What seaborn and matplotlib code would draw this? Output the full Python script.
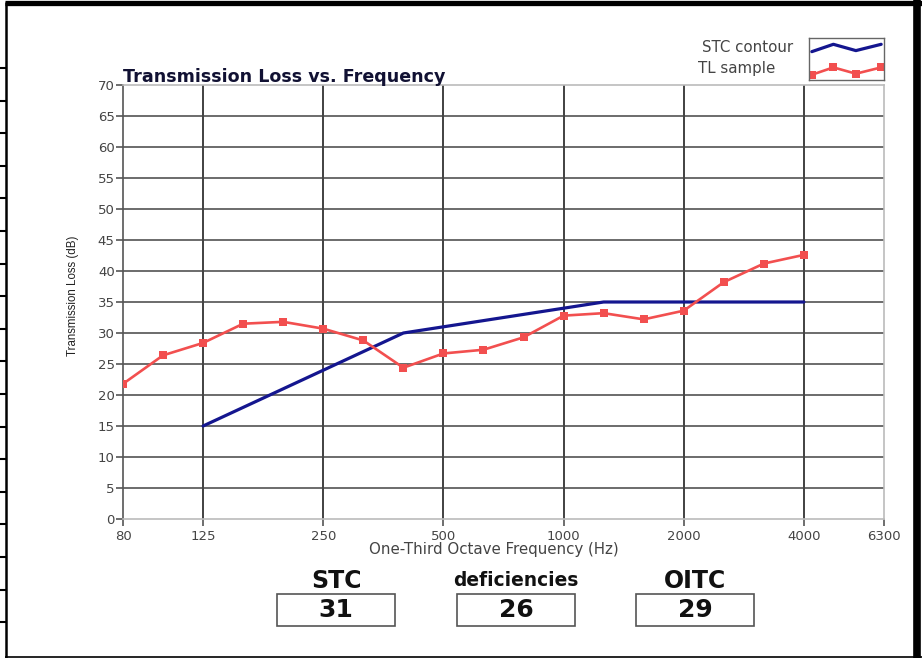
import matplotlib
matplotlib.use("Agg")
import matplotlib.pyplot as plt
import seaborn as sns
import pandas as pd
from matplotlib.patches import Rectangle
from matplotlib.lines import Line2D

# ---- data ----
bands = [80, 100, 125, 160, 200, 250, 315, 400, 500, 630, 800, 1000,
         1250, 1600, 2000, 2500, 3150, 4000, 5000, 6300]
tl_freqs = [80, 100, 125, 160, 200, 250, 315, 400, 500, 630, 800, 1000,
            1250, 1600, 2000, 2500, 3150, 4000]
tl_values = [21.8, 26.4, 28.4, 31.5, 31.8, 30.7, 28.8, 24.4, 26.7, 27.3, 29.3, 32.8,
             33.2, 32.2, 33.6, 38.2, 41.2, 42.6]
stc_freqs = [125, 160, 200, 250, 315, 400, 500, 630, 800, 1000,
             1250, 1600, 2000, 2500, 3150, 4000]
stc_values = [15, 18, 21, 24, 27, 30, 31, 32, 33, 34, 35, 35, 35, 35, 35, 35]
xtick_labels = [80, 125, 250, 500, 1000, 2000, 4000, 6300]
grid_freqs = [125, 250, 500, 1000, 2000, 4000]
summary_names = ["STC", "deficiencies", "OITC"]
summary_values = ["31", "26", "29"]

idx = {f: i for i, f in enumerate(bands)}
tl_df = pd.DataFrame({"band": [idx[f] for f in tl_freqs], "TL": tl_values})
stc_df = pd.DataFrame({"band": [idx[f] for f in stc_freqs], "TL": stc_values})

sns.set_style("white")
plt.rcParams["font.family"] = ["DejaVu Sans"]

W, H = 922, 658
fig = plt.figure(figsize=(W / 100, H / 100), dpi=100)
ax = fig.add_axes([123 / W, 1 - 519 / H, (884 - 123) / W, (519 - 85) / H])

navy = "#14168f"
red = "#f24f4f"

# grid
for f in grid_freqs:
    ax.axvline(idx[f], color="#333333", lw=1.3, zorder=1)
for y in range(5, 70, 5):
    ax.axhline(y, color="#444444", lw=1.1, zorder=1)

sns.lineplot(data=stc_df, x="band", y="TL", ax=ax, color=navy, lw=2.3,
             zorder=3, legend=False)
sns.lineplot(data=tl_df, x="band", y="TL", ax=ax, color=red, lw=1.9,
             marker="s", markersize=5.5, markeredgewidth=0, zorder=4, legend=False)

ax.set_xlim(0, len(bands) - 1)
ax.set_ylim(0, 70)
ax.set_xticks([idx[f] for f in xtick_labels])
ax.set_xticklabels([str(v) for v in xtick_labels])
ax.set_yticks(range(0, 75, 5))
ax.tick_params(axis="both", bottom=True, left=True, labelsize=9.5,
               colors="#555555", length=5, width=1.2, direction="out",
               labelcolor="#444444")
ax.tick_params(axis="x", pad=3)
ax.tick_params(axis="y", pad=1)
for s in ax.spines.values():
    s.set_color("#bbbbbb")
    s.set_linewidth(1.2)
ax.spines["left"].set_color("#555555")

ax.set_xlabel("One-Third Octave Frequency (Hz)", fontsize=10.8, color="#444444",
              labelpad=1)
ax.xaxis.set_label_coords(0.488, -0.052)
ax.set_ylabel("Transmission Loss (dB)", fontsize=8.3, color="#222222",
              family=["Liberation Sans"])
ax.yaxis.set_label_coords(-0.058, 0.515)
ax.set_title("Transmission Loss vs. Frequency", loc="left", fontsize=12.6,
             fontweight="bold", color="#111133", pad=2)

# legend
fig.text(793 / W, 1 - 47 / H, "STC contour", fontsize=10.8, color="#444444",
         ha="right", va="center")
fig.text(775 / W, 1 - 69 / H, "TL sample", fontsize=10.8, color="#444444",
         ha="right", va="center")
lax = fig.add_axes([809 / W, 1 - 80 / H, (884 - 809) / W, (80 - 38) / H])
lax.set_xlim(0, 4)
lax.set_ylim(0, 4)
lax.plot([0.15, 1.3, 2.5, 3.85], [2.7, 3.4, 2.8, 3.4], color=navy, lw=2.3)
lax.plot([0.15, 1.3, 2.5, 3.85], [0.5, 1.2, 0.6, 1.2], color=red, lw=1.9,
         marker="s", markersize=5.5, markeredgewidth=0)
lax.set_xticks([])
lax.set_yticks([])
for s in lax.spines.values():
    s.set_color("#666666")
    s.set_linewidth(1)

# summary boxes
centers = [336, 516, 695]
for c, name, val in zip(centers, summary_names, summary_values):
    fig.text(c / W, 1 - 581 / H, name,
             fontsize=17 if name != "deficiencies" else 13.4,
             fontweight="bold", color="#111111",
             ha="center", va="center")
    fig.patches.append(Rectangle(((c - 59) / W, 1 - 626 / H), 118 / W, 32 / H,
                                 transform=fig.transFigure, fill=False,
                                 edgecolor="#555555", lw=1.2))
    fig.text(c / W, 1 - 610 / H, val, fontsize=18, fontweight="bold",
             color="#111111", ha="center", va="center")

# outer frame
def fline(x0, y0, x1, y1, lw):
    fig.lines.append(Line2D([x0 / W, x1 / W], [1 - y0 / H, 1 - y1 / H],
                            transform=fig.transFigure, color="black", lw=lw,
                            solid_capstyle="butt"))

fline(5, 2.5, 922, 2.5, 3.8)      # top
fline(6, 2, 6, 658, 1.8)          # left
fline(5, 656.5, 922, 656.5, 1.2)  # bottom
fline(917, 0, 917, 658, 5.5)      # right
y = 68.0
while y < 650:
    fline(0, y, 6, y, 1.5)
    y += 32.6

fig.savefig("out.png", dpi=100)
